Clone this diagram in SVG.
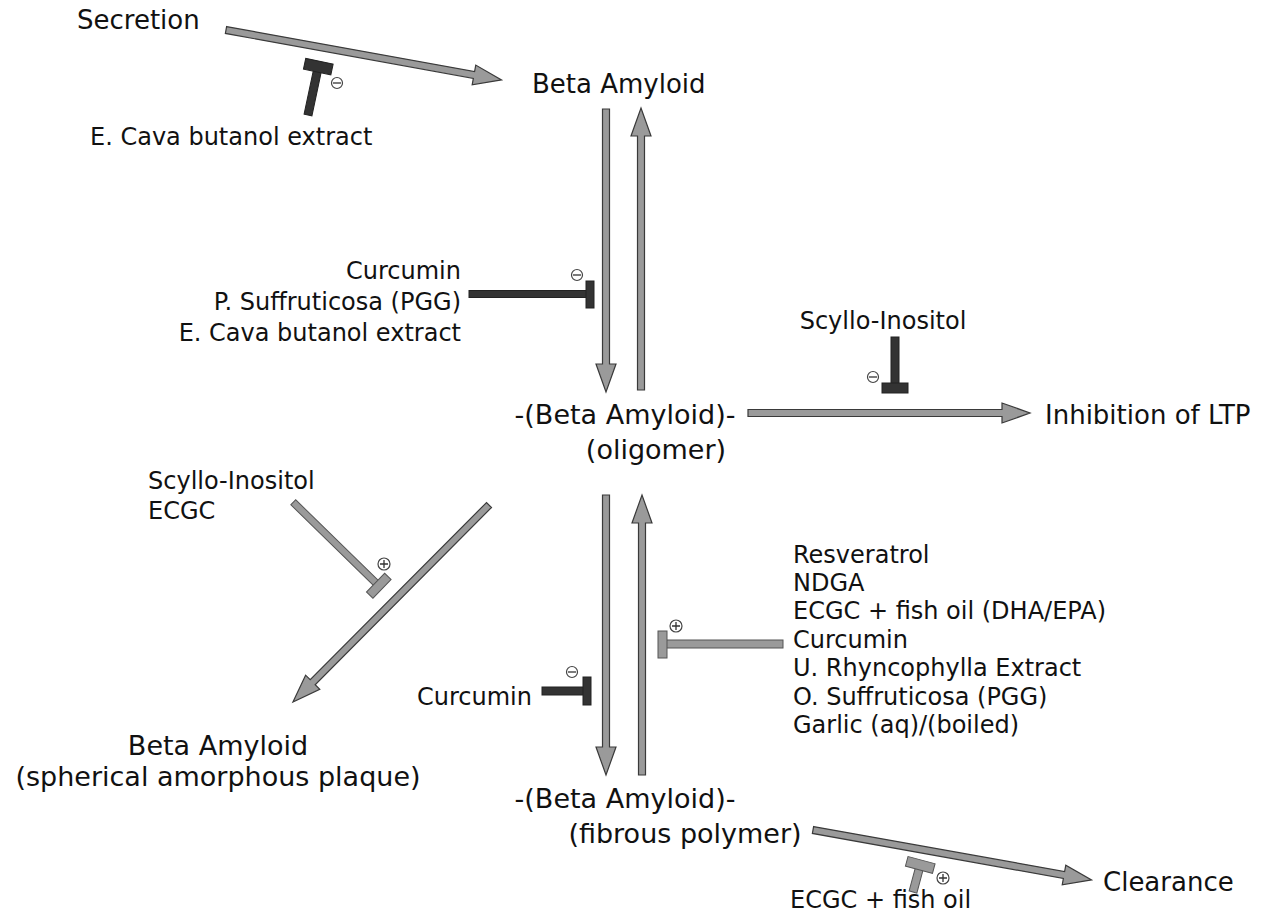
<svg xmlns="http://www.w3.org/2000/svg" width="1264" height="917" viewBox="0 0 1264 917">
<style>
text{font-family:"DejaVu Sans","Liberation Sans",sans-serif;fill:#111}
.n{font-size:26px}
.m{font-size:27px}
.d{font-size:24px}
.arr{fill:#9a9a9a;stroke:#3a3a3a;stroke-width:1.2;stroke-linejoin:miter}
.dk{fill:#333;stroke:#222;stroke-width:1}
.lt{fill:#9a9a9a;stroke:#555;stroke-width:1}
.sg{fill:#fff;stroke:#444;stroke-width:1.2}
.sgl{stroke:#333;stroke-width:1.3;fill:none}
</style>
<rect width="1264" height="917" fill="#fff"/>
<g id="connectors">
<path class="arr" transform="translate(226,30) rotate(10.27)" d="M0,-3.5 L252,-3.5 L252,-10 L280,0 L252,10 L252,3.5 L0,3.5 Z"/>
<path class="arr" transform="translate(606,109) rotate(90)" d="M0,-3.5 L255,-3.5 L255,-10 L283,0 L255,10 L255,3.5 L0,3.5 Z"/>
<path class="arr" transform="translate(641,390) rotate(-90)" d="M0,-3.5 L254,-3.5 L254,-10 L282,0 L254,10 L254,3.5 L0,3.5 Z"/>
<path class="arr" transform="translate(748,413)" d="M0,-3.5 L254,-3.5 L254,-10 L282,0 L254,10 L254,3.5 L0,3.5 Z"/>
<path class="arr" transform="translate(489,505) rotate(134.85)" d="M0,-3.5 L250,-3.5 L250,-10 L278,0 L250,10 L250,3.5 L0,3.5 Z"/>
<path class="arr" transform="translate(606,495) rotate(90)" d="M0,-3.5 L252,-3.5 L252,-10 L280,0 L252,10 L252,3.5 L0,3.5 Z"/>
<path class="arr" transform="translate(642,775) rotate(-90)" d="M0,-3.5 L252,-3.5 L252,-10 L280,0 L252,10 L252,3.5 L0,3.5 Z"/>
<path class="arr" transform="translate(813,830) rotate(10.16)" d="M0,-3.5 L255,-3.5 L255,-10 L283,0 L255,10 L255,3.5 L0,3.5 Z"/>
</g>
<g id="inh-secretion" transform="translate(308,115) rotate(12)">
<rect class="dk" x="-4" y="-48" width="8" height="48"/>
<rect class="dk" x="-14" y="-55" width="28" height="11"/>
</g>
<g id="sign-secretion"><circle class="sg" cx="337" cy="83" r="5.5"/><path class="sgl" d="M333,83 H341"/></g>
<g id="inh-curcumin-top">
<rect class="dk" x="469" y="290.5" width="121" height="7"/>
<rect class="dk" x="586" y="281" width="8" height="27"/>
<circle class="sg" cx="577" cy="275" r="5.5"/><path class="sgl" d="M573,275 H581"/>
</g>
<g id="inh-scyllo-ltp">
<rect class="dk" x="891" y="337" width="8" height="49"/>
<rect class="dk" x="882" y="383" width="26" height="10"/>
<circle class="sg" cx="873" cy="377" r="5.5"/><path class="sgl" d="M869,377 H877"/>
</g>
<g id="inh-scyllo-plaque">
<g transform="translate(377,584) rotate(44.3)">
<rect class="lt" x="-117" y="-3.5" width="117" height="7"/>
<rect class="lt" x="-2" y="-13" width="9" height="26"/>
</g>
<circle class="sg" cx="384" cy="564" r="6"/><path class="sgl" d="M380,564 H388 M384,560 V568"/>
</g>
<g id="inh-curcumin-bottom">
<rect class="dk" x="542" y="687" width="46" height="8"/>
<rect class="dk" x="583" y="677" width="8" height="28"/>
<circle class="sg" cx="572" cy="672" r="5.5"/><path class="sgl" d="M568,672 H576"/>
</g>
<g id="inh-list">
<rect class="lt" x="663" y="640" width="120" height="8"/>
<rect class="lt" x="658" y="631" width="9" height="27"/>
<circle class="sg" cx="676" cy="626" r="6"/><path class="sgl" d="M672,626 H680 M676,622 V630"/>
</g>
<g id="inh-clearance">
<g transform="translate(913,892) rotate(15)">
<rect class="lt" x="-4" y="-26" width="8" height="26"/>
<rect class="lt" x="-14" y="-33" width="28" height="10"/>
</g>
<circle class="sg" cx="943" cy="878" r="6"/><path class="sgl" d="M939,878 H947 M943,874 V882"/>
</g>
<g id="secretion"><text class="n" x="77" y="29">Secretion</text></g>
<g id="ecava-top"><text class="d" x="90" y="145">E. Cava butanol extract</text></g>
<g id="beta-amyloid"><text class="n" x="532" y="93">Beta Amyloid</text></g>
<g id="drugs-top" text-anchor="end">
<text class="d" x="461" y="279">Curcumin</text>
<text class="d" x="461" y="310">P. Suffruticosa (PGG)</text>
<text class="d" x="461" y="341">E. Cava butanol extract</text>
</g>
<g id="scyllo-top"><text class="d" x="883" y="329" text-anchor="middle">Scyllo-Inositol</text></g>
<g id="oligomer" text-anchor="middle">
<text class="m" x="625" y="424">-(Beta Amyloid)-</text>
<text class="m" x="656" y="459">(oligomer)</text>
</g>
<g id="ltp"><text class="n" x="1045" y="424">Inhibition of LTP</text></g>
<g id="drugs-left">
<text class="d" x="148" y="489">Scyllo-Inositol</text>
<text class="d" x="148" y="519">ECGC</text>
</g>
<g id="drugs-list">
<text class="d" x="793" y="563">Resveratrol</text>
<text class="d" x="793" y="591">NDGA</text>
<text class="d" x="793" y="619">ECGC + fish oil (DHA/EPA)</text>
<text class="d" x="793" y="648">Curcumin</text>
<text class="d" x="793" y="676">U. Rhyncophylla Extract</text>
<text class="d" x="793" y="705">O. Suffruticosa (PGG)</text>
<text class="d" x="793" y="733">Garlic (aq)/(boiled)</text>
</g>
<g id="curcumin-bottom"><text class="d" x="532" y="705" text-anchor="end">Curcumin</text></g>
<g id="plaque" text-anchor="middle">
<text class="m" x="218" y="755">Beta Amyloid</text>
<text class="m" x="218" y="786">(spherical amorphous plaque)</text>
</g>
<g id="polymer" text-anchor="middle">
<text class="m" x="625" y="808">-(Beta Amyloid)-</text>
<text class="m" x="685" y="843">(fibrous polymer)</text>
</g>
<g id="clearance"><text class="n" x="1103" y="891">Clearance</text></g>
<g id="ecgc-fish"><text class="d" x="790" y="908">ECGC + fish oil</text></g>
</svg>
